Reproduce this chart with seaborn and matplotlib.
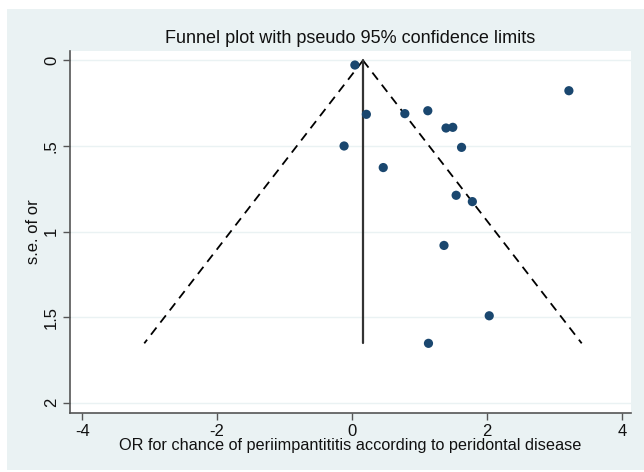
import matplotlib
matplotlib.use("Agg")
import matplotlib.pyplot as plt
import matplotlib.patches as mpatches
import numpy as np
import pandas as pd
import seaborn as sns

# Study estimates (log OR) and their standard errors
log_or = [0.04, 3.21, 0.21, 0.78, 1.12, 1.39, 1.49, -0.12, 1.62, 0.46,
          1.54, 1.78, 1.36, 2.03, 1.13]
se_or = [0.027, 0.177, 0.315, 0.311, 0.294, 0.395, 0.391, 0.500, 0.508, 0.626,
         0.788, 0.825, 1.081, 1.492, 1.653]
pooled = 0.16

x_ticks = [-4, -2, 0, 2, 4]
y_ticks = [0, 0.5, 1, 1.5, 2]
y_tick_labels = ["0", ".5", "1", "1.5", "2"]

df = pd.DataFrame({"or": log_or, "se": se_or})

sns.set_theme(style="white")
plt.rcParams["font.family"] = ["Liberation Sans", "DejaVu Sans"]

W, H = 644, 472
fig = plt.figure(figsize=(W / 100, H / 100), dpi=100, facecolor="white")

# light blue graph region
bg = "#eaf2f3"
fig.patches.append(mpatches.Rectangle((7 / W, 1 - 470 / H), (W - 7) / W, (470 - 9) / H,
                                      transform=fig.transFigure, facecolor=bg,
                                      edgecolor="none", zorder=-10))

ax = fig.add_axes([70 / W, 1 - 413 / H, (631 - 70) / W, (413 - 51) / H])
ax.set_zorder(5)
ax.set_facecolor("white")

# horizontal grid lines
for yt in y_ticks:
    ax.axhline(yt, color="#eaf2f3", lw=1.0, zorder=0)

# pseudo 95% confidence limits
se_max = max(se_or)
se_line = np.array([0, se_max])
ax.plot(pooled - 1.96 * se_line, se_line, color="black", lw=1.3,
        dashes=(5, 3.5), zorder=2)
ax.plot(pooled + 1.96 * se_line, se_line, color="black", lw=1.3,
        dashes=(5, 3.5), zorder=2)
ax.plot([pooled, pooled], [0, se_max], color="#333333", lw=1.6, zorder=2)

sns.scatterplot(data=df, x="or", y="se", ax=ax, color="#1a476f", s=44,
                edgecolor="none", zorder=3, legend=False)

ax.set_xlim(-4.18, 4.13)
ax.set_ylim(2.06, -0.055)
ax.set_xticks(x_ticks)
ax.set_xticklabels([str(t) for t in x_ticks])
ax.set_yticks(y_ticks)
ax.set_yticklabels(y_tick_labels, rotation=90, va="center")

for s in ["top", "right"]:
    ax.spines[s].set_visible(False)
for s in ["left", "bottom"]:
    ax.spines[s].set_color("#555555")
    ax.spines[s].set_linewidth(1.2)

ax.tick_params(axis="both", which="both", direction="out", length=5, width=1,
               color="#555555", labelsize=12, labelcolor="#111111", pad=3,
               left=True, bottom=True)

ax.set_xlabel("OR for chance of periimpantititis according to peridontal disease",
              fontsize=11.7, color="#111111", labelpad=-1)
ax.set_ylabel("s.e. of or", fontsize=12, color="#111111", labelpad=2)
ax.set_title("Funnel plot with pseudo 95% confidence limits", fontsize=13,
             color="#111111", pad=6)

fig.savefig("out.png", dpi=100, facecolor="white")
